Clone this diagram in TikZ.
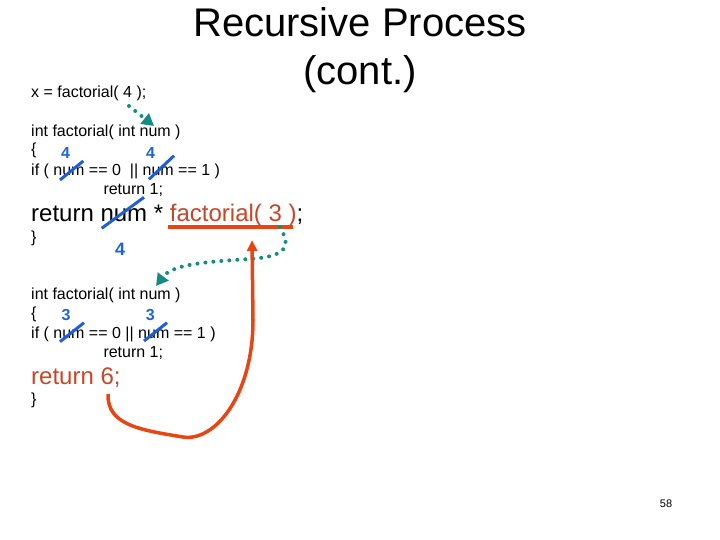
\documentclass[tikz,border=0pt]{standalone}
\usepackage{fontspec}
\setmainfont{Liberation Sans}
\usetikzlibrary{arrows.meta}
\definecolor{strikeblue}{RGB}{30,95,215}
\definecolor{numblue}{RGB}{30,100,210}
\definecolor{callteal}{RGB}{20,140,130}
\definecolor{retred}{RGB}{230,70,20}
\definecolor{textred}{RGB}{200,70,40}
\newcommand{\fsz}[1]{\fontsize{#1}{1.2\dimexpr#1pt\relax}\selectfont}
\tikzset{
	code/.style={anchor=base west, inner sep=0pt, font=\fsz{16}},
	bigcode/.style={anchor=base west, inner sep=0pt, font=\fsz{24}},
	argnum/.style={anchor=base west, inner sep=0pt, text=numblue, font=\fsz{16}\bfseries},
	strike/.style={strikeblue, line width=3pt, line cap=butt},
	callline/.style={callteal, line width=4pt, line cap=round, dash pattern=on 0pt off 8pt, -{Triangle[length=12pt,width=13pt]}},
	retline/.style={retred, line width=3.5pt, -{Triangle[length=11pt,width=10pt]}}
}
\begin{document}
\begin{tikzpicture}[x=1pt, y=-1pt, line join=round]
	\useasboundingbox (0,0) rectangle (720,540);
	% title
	\node (title) [anchor=base, inner sep=0pt, font=\fsz{40}] at (360,37) {Recursive Process};
	\node (cont) [anchor=base, inner sep=0pt, font=\fsz{40}] at (360,85) {(cont.)};
	% first call
	\node (xcall) [code] at (31,98) {x = factorial( 4 );};
	\node (defa) [code] at (31,137) {int factorial( int num )};
	\node (bracea) [code] at (31,155) {\{};
	\node (ifa) [code] at (31,175.5) {if ( num == 0\ \ || num == 1 )};
	\node (reta) [code] at (103.3,194.7) {return 1;};
	\node (reca) [bigcode] at (31,222) {return num * \textcolor{textred}{factorial( 3 )};};
	\node (closea) [code] at (31,242) {\}};
	\node (fourif) [argnum] at (61,159) {4};
	\node (fourifb) [argnum] at (146,159) {4};
	\node (fourret) [argnum, font=\fsz{18}\bfseries] at (115,255) {4};
	% second call
	\node (defb) [code] at (31,299.5) {int factorial( int num )};
	\node (braceb) [code] at (31,318) {\{};
	\node (ifb) [code] at (31,338.5) {if ( num == 0 || num == 1 )};
	\node (retb) [code] at (103.3,357.5) {return 1;};
	\node (recb) [bigcode, text=textred] at (31,384) {return 6;};
	\node (closeb) [code] at (31,404) {\}};
	\node (threeif) [argnum] at (61.5,320) {3};
	\node (threeifb) [argnum] at (145.7,320) {3};
	\node (pagenum) [inner sep=0pt, font=\fsz{11}] at (666,504) {58};
	% crossed out arguments
	\foreach \ax/\ay/\bx/\by in {60/180/83.3/161, 149/179.3/174/155.7, 101.7/228.3/144/197.3, 60/341.7/84/322.7, 144/341/167/322.7}{
		\draw[strike] (\ax,\ay) -- (\bx,\by);
	}
	% calls and return
	\coordinate (callout) at (129,106);
	\coordinate (callin) at (154,126);
	\coordinate (reccall) at (280,227);
	\coordinate (recin) at (156,286);
	\coordinate (sixout) at (108,394);
	\coordinate (sixin) at (252,240);
	\draw[retred, line width=4pt] (168,227.3) coordinate (ula) -- (293,227.3) coordinate (ulb);
	\draw[callline] (callout) -- (callin);
	\draw[callline] (reccall) .. controls (290,245) and (290,256) .. (250,259) .. controls (200,262) and (172,265) .. (recin);
	\draw[retline] (sixout) .. controls (107,425) and (140,430) .. (183,437) .. controls (215,442) and (253,395) .. (253,320) -- (sixin);
\end{tikzpicture}
\end{document}
